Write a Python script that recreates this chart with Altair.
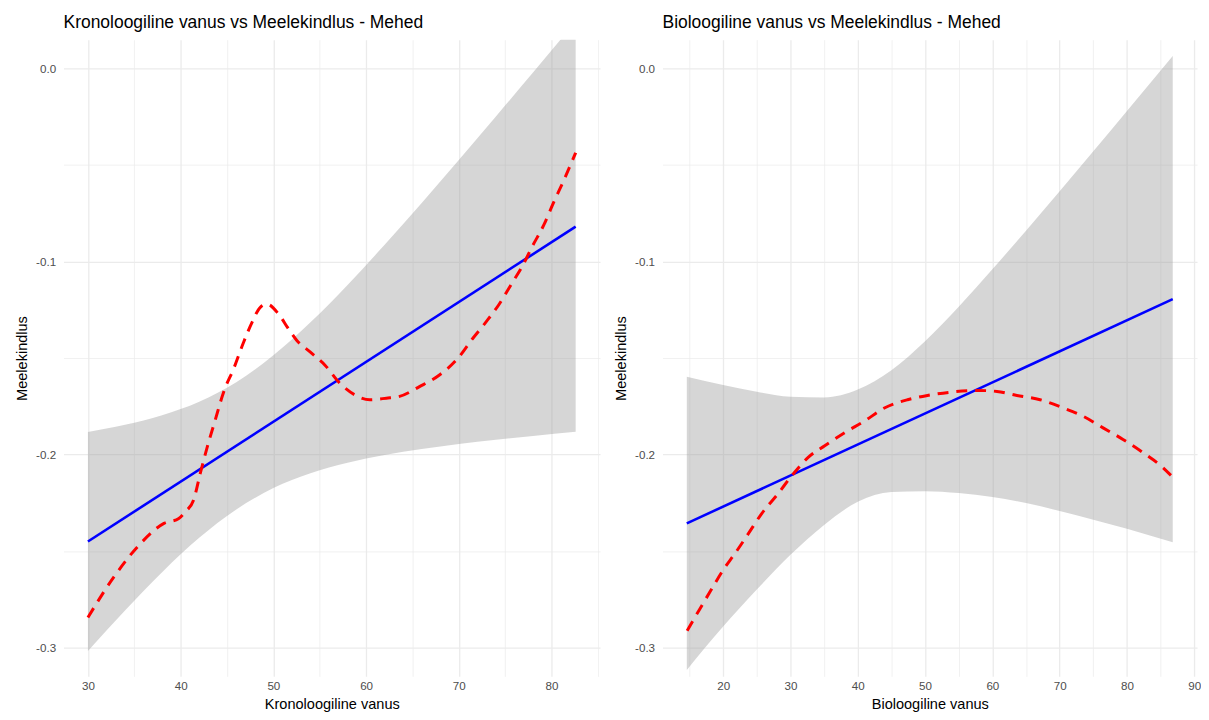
import altair as alt
import pandas as pd

# ---------------- Left panel: Kronoloogiline vanus ----------------
kron_line_x = [30.0, 82.6]
kron_line_y = [-0.2451, -0.0819]

kron_ci_x = [30, 34, 38, 42, 46, 50, 54, 58, 62, 66, 70, 74, 78, 82.6]
kron_ci_lo = [-0.3019, -0.2808, -0.2610, -0.2432, -0.2285, -0.2174, -0.2097,
              -0.2043, -0.2003, -0.1972, -0.1946, -0.1924, -0.1904, -0.1882]
kron_ci_hi = [-0.1883, -0.1846, -0.1796, -0.1726, -0.1625, -0.1486, -0.1315,
              -0.1121, -0.0913, -0.0696, -0.0474, -0.0248, -0.0020, 0.0244]

kron_loess_x = [30.0, 32.85, 35.7, 38.2, 39.8, 40.5, 41.4, 42.1, 42.8, 43.7,
                44.66, 45.73, 46.8, 47.7, 48.59, 49.31, 50.56, 51.63, 52.53,
                53.96, 55.57, 57.18, 58.79, 60.4, 62.19, 63.61, 65.76, 67.91,
                69.87, 71.48, 72.92, 74.35, 75.77, 76.85, 77.92, 79.17, 80.25,
                81.32, 82.6]
kron_loess_y = [-0.2845, -0.2631, -0.2460, -0.2357, -0.2332, -0.2297, -0.2236,
                -0.2101, -0.1973, -0.1826, -0.1673, -0.1554, -0.1417, -0.1315,
                -0.1237, -0.1221, -0.1272, -0.1349, -0.1409, -0.1468, -0.1537,
                -0.1631, -0.1691, -0.1716, -0.1708, -0.1699, -0.1648, -0.1588,
                -0.1503, -0.1400, -0.1314, -0.1221, -0.1109, -0.1024, -0.0922,
                -0.0810, -0.0691, -0.0579, -0.0436]

# ---------------- Right panel: Bioloogiline vanus ----------------
bio_line_x = [14.6, 86.8]
bio_line_y = [-0.2357, -0.1195]

bio_ci_x = [14.6, 20, 25, 30, 35, 40, 45, 50, 55, 60, 65, 70, 75, 80, 86.8]
bio_ci_lo = [-0.3117, -0.2892, -0.2700, -0.2520, -0.2365, -0.2245, -0.2195,
             -0.2190, -0.2200, -0.2220, -0.2252, -0.2293, -0.2338, -0.2385,
             -0.2455]
bio_ci_hi = [-0.1597, -0.1640, -0.1675, -0.1701, -0.1704, -0.1663, -0.1563,
             -0.1413, -0.1234, -0.1040, -0.0840, -0.0635, -0.0428, -0.0219,
             0.0065]

bio_loess_x = [14.65, 16.38, 18.11, 20.07, 21.8, 23.77, 25.73, 27.95, 30.41,
               32.63, 35.09, 38.05, 41.0, 43.96, 47.4, 50.35, 53.79, 57.74,
               60.69, 63.65, 67.09, 70.54, 73.5, 76.45, 79.41, 82.36, 85.32,
               86.8]
bio_loess_y = [-0.2913, -0.2810, -0.2708, -0.2595, -0.2511, -0.2409, -0.2306,
               -0.2212, -0.2101, -0.2015, -0.1955, -0.1887, -0.1827, -0.1759,
               -0.1716, -0.1694, -0.1677, -0.1668, -0.1673, -0.1694, -0.1716,
               -0.1759, -0.1802, -0.1862, -0.1922, -0.1990, -0.2067, -0.2118]

# Axis ticks / gridlines
kron_x_values = [30, 35, 40, 45, 50, 55, 60, 65, 70, 75, 80, 85]
bio_x_values = [15, 20, 25, 30, 35, 40, 45, 50, 55, 60, 65, 70, 75, 80, 85, 90]
y_values = [-0.3, -0.25, -0.2, -0.15, -0.1, -0.05, 0.0]
y_domain = [-0.315, 0.015]

FONT = "Liberation Sans"
GRID = "#ebebeb"
LABEL = "#4d4d4d"

x_major = "datum.value % 10 == 0"
y_major = "abs(datum.value * 10 - round(datum.value * 10)) < 0.001"


def make_panel(ci_x, ci_lo, ci_hi, lx, ly, sx, sy, xdom, xvals, title, xtitle, width):
    ci_df = pd.DataFrame({"x": ci_x, "lo": ci_lo, "hi": ci_hi})
    line_df = pd.DataFrame({"x": lx, "y": ly})
    loess_df = pd.DataFrame({"x": sx, "y": sy})

    xs = alt.Scale(domain=xdom, nice=False, zero=False)
    ys = alt.Scale(domain=y_domain, nice=False, zero=False)

    xaxis = alt.Axis(
        values=xvals,
        labelExpr=f"{x_major} ? datum.label : ''",
        title=xtitle,
        grid=True,
        gridColor=GRID,
        gridWidth={"condition": {"test": x_major, "value": 1.3}, "value": 0.7},
        ticks=False,
        domain=False,
        labelColor=LABEL,
        labelFontSize=11.7,
        labelPadding=4,
        titleFontSize=14.67,
        titleFontWeight="normal",
        titleColor="black",
        titlePadding=5,
    )
    yaxis = alt.Axis(
        values=y_values,
        labelExpr=f"{y_major} ? replace(format(datum.value, '.1f'), '\u2212', '-') : ''",
        title="Meelekindlus",
        grid=True,
        gridColor=GRID,
        gridWidth={"condition": {"test": y_major, "value": 1.3}, "value": 0.7},
        ticks=False,
        domain=False,
        labelColor=LABEL,
        labelFontSize=11.7,
        labelPadding=8,
        titleFontSize=14.67,
        titleFontWeight="normal",
        titleColor="black",
        titlePadding=6,
    )

    band = alt.Chart(ci_df).mark_area(
        color="#999999", opacity=0.4, interpolate="monotone", clip=True
    ).encode(
        x=alt.X("x:Q", scale=xs, axis=xaxis),
        y=alt.Y("lo:Q", scale=ys, axis=yaxis),
        y2="hi:Q",
    )
    lin = alt.Chart(line_df).mark_line(color="blue", strokeWidth=2.6, clip=True).encode(
        x=alt.X("x:Q", scale=xs, axis=xaxis),
        y=alt.Y("y:Q", scale=ys, axis=yaxis),
    )
    loess = alt.Chart(loess_df).mark_line(
        color="red", strokeWidth=3, strokeDash=[11, 8], interpolate="monotone", clip=True
    ).encode(
        x=alt.X("x:Q", scale=xs, axis=xaxis),
        y=alt.Y("y:Q", scale=ys, axis=yaxis),
    )
    return alt.layer(band, lin, loess).properties(
        width=width,
        height=642,
        title=alt.TitleParams(
            title, anchor="start", frame="group", fontSize=17.6,
            fontWeight="normal", color="black", font=FONT, offset=8,
        ),
    )


left = make_panel(kron_ci_x, kron_ci_lo, kron_ci_hi, kron_line_x, kron_line_y,
                  kron_loess_x, kron_loess_y, [27.37, 85.23], kron_x_values,
                  "Kronoloogiline vanus vs Meelekindlus - Mehed", "Kronoloogiline vanus", 541)
right = make_panel(bio_ci_x, bio_ci_lo, bio_ci_hi, bio_line_x, bio_line_y,
                   bio_loess_x, bio_loess_y, [10.99, 90.41], bio_x_values,
                   "Bioloogiline vanus vs Meelekindlus - Mehed", "Bioloogiline vanus", 539)

chart = alt.hconcat(left, right, spacing=13).configure(
    font=FONT,
    padding={"left": 6, "top": 3, "right": 0, "bottom": 0},
    background="white",
).configure_view(stroke=None)

chart.save("out.html", embed_options={"renderer": "svg", "actions": False})
